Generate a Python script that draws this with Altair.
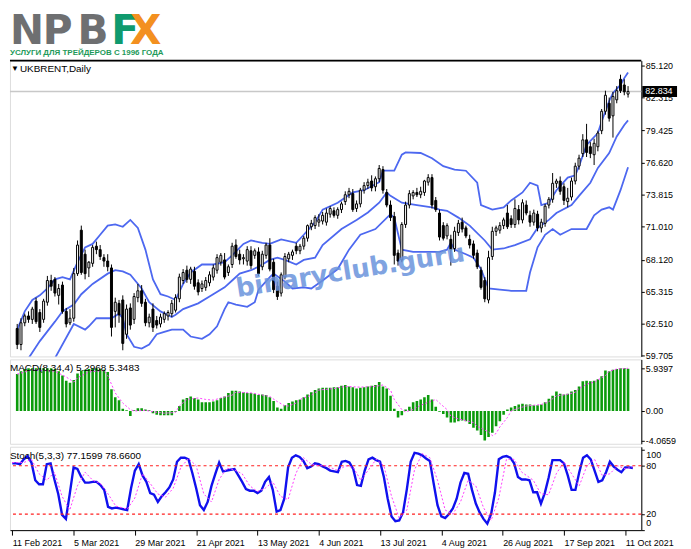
import altair as alt
import pandas as pd

# ---------------- data ----------------
opens = [62.1,60.7,62.6,63.2,62.9,64.5,63.5,62.9,64.4,66.3,
66.4,65.0,65.9,63.6,62.6,63.0,66.9,70.7,68.6,67.4,
67.8,69.3,69.0,68.3,68.0,67.4,63.6,64.3,64.6,61.6,
63.9,62.9,64.8,65.4,64.4,62.6,63.8,62.8,62.5,62.9,
63.2,63.4,63.7,64.7,66.3,67.2,66.4,67.1,66.1,65.6,
65.7,66.1,66.6,67.2,67.9,68.1,67.0,67.7,69.4,68.6,
68.2,68.0,68.9,68.5,68.8,67.5,68.5,69.4,67.9,65.8,
65.2,66.6,68.2,68.5,69.3,68.9,69.3,70.0,71.0,71.1,
71.4,71.5,71.4,72.1,72.4,72.0,72.5,73.2,73.8,73.9,
72.6,73.0,74.2,74.6,75.0,74.5,75.2,76.0,74.0,72.9,
71.9,68.7,68.1,71.2,72.9,73.7,74.0,73.8,74.0,74.9,
75.3,73.3,72.2,71.1,70.2,69.9,69.1,70.5,71.4,70.9,
69.9,69.5,68.7,67.2,66.3,64.6,68.4,70.6,70.7,71.1,
72.2,71.7,71.2,72.5,71.6,72.9,72.0,71.4,72.1,70.9,
71.3,72.9,73.4,74.8,75.0,74.5,73.2,73.6,75.0,76.3,
77.4,78.6,78.0,77.3,78.0,79.4,81.1,81.8,80.7,82.1,
83.9,83.4,82.6]
highs = [62.5,63.0,63.4,63.6,64.0,64.8,63.8,64.7,66.7,66.8,
66.6,66.0,66.2,63.9,63.8,67.4,69.8,71.1,69.0,68.0,
69.4,69.7,69.4,68.6,68.6,67.7,64.8,64.6,65.0,64.2,
64.3,65.2,66.0,65.9,64.7,63.4,64.3,63.2,63.4,63.6,
63.7,64.6,65.1,66.9,67.3,67.6,67.5,67.5,66.4,66.3,
66.6,67.1,67.7,68.6,68.7,68.7,67.7,69.6,69.9,69.0,
68.6,69.3,69.3,69.1,69.2,68.9,69.6,70.0,68.2,66.2,
67.0,68.7,68.8,69.0,69.6,69.5,70.2,71.2,71.6,72.0,
72.1,72.3,72.6,72.8,72.7,72.7,73.2,74.1,74.4,74.3,
73.3,74.4,74.9,75.2,75.5,75.4,76.4,76.3,74.3,73.3,
72.3,69.0,71.4,73.2,74.2,74.2,74.4,74.5,75.1,75.6,
75.6,73.6,72.5,71.4,71.3,70.3,71.0,71.6,71.8,71.1,
70.3,69.8,69.0,67.5,66.6,68.9,71.0,71.1,71.4,71.8,
72.9,72.0,73.4,72.9,73.4,73.3,72.4,72.5,72.4,71.7,
73.0,73.6,75.7,75.2,75.4,74.8,74.4,75.3,76.6,77.3,
79.1,80.0,78.4,78.7,79.4,81.3,82.9,82.3,82.8,83.3,
84.3,83.9,83.3]
lows = [60.3,60.2,62.3,62.6,62.5,62.5,61.8,62.6,64.1,65.4,
64.9,64.2,63.4,62.2,62.4,62.7,66.7,66.8,66.4,66.6,
67.5,68.6,68.1,67.5,67.1,61.4,62.2,62.6,60.2,61.2,
62.0,62.5,64.4,64.0,62.3,62.2,61.8,62.1,62.2,62.6,
62.8,63.1,63.5,64.4,66.0,66.1,66.0,65.5,65.0,65.3,
65.4,65.8,66.3,66.9,67.6,66.4,66.7,67.4,68.2,67.7,
67.7,67.6,67.3,68.2,66.7,67.2,68.2,67.1,65.2,64.6,
64.9,66.4,67.9,68.1,68.6,68.6,69.0,69.7,70.7,70.8,
71.0,71.2,71.1,71.8,71.8,71.7,72.2,72.9,73.5,72.3,
72.3,72.7,73.9,74.3,74.1,74.1,74.9,73.9,72.7,71.5,
67.7,67.6,67.9,70.9,72.6,73.4,73.6,73.5,73.7,74.6,
72.6,72.3,69.8,69.8,69.9,67.6,68.8,70.2,70.5,70.0,
69.1,68.2,67.3,65.5,64.4,64.3,68.1,70.2,70.4,70.8,
70.8,70.9,70.9,71.2,71.3,72.0,71.0,71.1,70.6,70.5,
71.0,72.6,73.1,74.4,73.8,72.9,72.7,73.3,74.7,76.0,
77.1,77.1,77.0,76.4,77.6,79.1,80.8,80.2,78.8,81.8,
82.7,82.5,82.3]
closes = [60.7,62.6,63.2,62.9,63.8,62.7,62.2,64.5,66.3,65.8,
65.2,65.6,63.6,62.5,63.0,66.9,69.4,67.0,66.9,67.9,
69.2,69.0,68.4,68.0,67.5,62.2,64.4,63.3,60.8,63.8,
62.4,64.9,65.4,64.3,62.6,63.1,62.2,62.4,63.1,63.4,
63.5,64.3,64.8,66.6,67.0,66.4,67.3,65.8,65.3,66.0,
66.3,66.8,67.4,68.3,68.5,66.6,67.5,69.3,68.4,68.1,
68.3,69.0,67.6,68.9,66.9,68.6,69.4,67.3,65.5,64.9,
66.8,68.4,68.6,68.8,68.9,69.3,70.0,71.1,71.3,71.8,
71.6,72.0,72.2,72.6,72.0,72.5,73.0,73.8,74.1,72.5,
73.0,74.2,74.6,74.9,74.4,75.2,76.1,74.2,72.9,71.8,
68.5,68.0,71.2,72.9,73.9,74.0,73.8,74.1,75.0,75.3,
72.9,72.5,70.1,70.0,71.1,69.0,70.6,71.3,70.8,70.2,
69.4,68.5,67.5,65.7,64.7,68.3,70.6,70.9,71.1,71.6,
71.0,71.2,72.6,71.6,73.1,72.2,71.4,72.2,70.9,71.4,
72.8,73.4,74.8,75.0,74.1,73.3,73.5,75.0,76.3,77.0,
78.6,77.5,77.4,78.3,79.2,81.1,82.5,80.5,82.4,82.9,
82.9,82.8,82.834]

# Bollinger bands (read at selected bars)
bb_up_idx = [0,2,4,6,8,10,12,14,16,18,20,22,24,26,28,30,32,34,36,38,40,42,44,46,49,52,55,57,60,62,65,67,70,74,76,79,81,85,89,92,96,97,100,102,103,107,110,113,116,119,122,123,126,129,131,134,136,138,139,141,143,146,148,149,151,154,155,157,158,160,161,162]
bb_up = [62.0,63.6,64.6,65.0,65.6,66.4,66.6,66.4,67.9,69.2,69.5,70.3,71.1,71.2,71.0,71.6,70.9,69.0,66.4,65.1,64.9,64.6,66.0,67.0,67.7,67.7,67.9,68.5,69.5,69.8,69.6,69.5,69.9,69.6,70.3,71.4,72.5,73.1,74.0,74.2,74.9,75.9,75.9,77.3,77.5,77.45,77.0,76.3,76.0,75.9,74.85,72.9,72.5,72.7,73.3,74.0,74.85,74.6,72.9,73.1,74.2,75.3,75.5,76.3,78.15,79.2,80.2,82.0,82.7,83.4,84.0,84.5]
bb_mid_idx = [2,3,6,10,12,15,17,20,24,26,28,30,33,35,38,41,42,44,48,51,55,57,59,62,64,67,69,71,74,76,79,81,86,90,93,96,98,99,102,106,110,112,114,117,120,124,126,129,132,136,138,141,143,147,149,152,154,157,159,161,162]
bb_mid = [59.0,59.5,61.0,62.7,63.6,64.2,65.1,66.0,66.9,67.2,67.1,66.8,65.6,64.4,63.6,63.1,63.3,63.8,64.3,64.9,65.7,66.3,66.9,67.2,67.5,68.1,68.3,68.1,67.7,68.1,68.3,69.4,70.8,71.6,72.25,73.1,74.0,73.7,73.1,72.9,72.7,72.5,72.4,71.8,71.1,69.8,69.0,69.1,69.4,69.9,70.9,71.6,72.2,72.9,73.7,74.85,76.15,77.45,78.9,79.9,80.3]
bb_low_idx = [9,10,15,18,19,21,25,27,28,29,31,33,35,37,39,41,44,46,49,51,53,55,56,58,61,63,64,67,68,71,73,76,78,81,85,88,91,95,99,100,102,105,110,112,114,115,116,119,121,123,125,128,131,135,136,138,140,142,144,147,151,153,155,157,158,160,162]
bb_low = [59.0,59.5,62.5,62.0,62.3,63.0,63.0,63.4,63.0,61.6,60.5,60.35,60.7,61.6,61.8,62.0,62.0,61.4,61.2,61.6,62.3,63.8,64.4,64.2,64.0,64.4,65.5,66.6,66.9,66.2,65.6,65.7,65.6,66.3,67.3,69.0,70.3,70.8,72.1,71.8,69.0,68.8,68.8,68.8,69.0,69.6,69.0,68.6,68.3,67.3,65.6,65.5,65.4,65.4,67.0,69.2,70.3,70.8,70.3,70.8,70.8,72.0,72.5,72.7,72.5,74.2,76.2]

# MACD(8,34,4)
macd_hist = [5.1,5.5,5.8,5.9,5.9,5.9,5.94,5.9,5.9,5.9,
5.8,5.5,4.9,4.2,3.9,4.3,5.2,5.6,5.7,5.8,
5.9,5.9,5.8,5.7,5.4,3.0,1.9,1.5,0.3,0.1,
-0.7,0.1,0.4,0.4,0.2,0.1,-0.3,-0.5,-0.6,-0.6,
-0.6,-0.6,-0.1,0.7,1.6,1.8,2.0,1.8,1.6,1.2,
1.2,1.2,1.3,1.5,1.8,2.0,2.5,2.8,2.8,2.7,
2.6,2.5,2.5,2.4,2.2,2.3,2.2,1.9,1.4,0.5,
0.3,0.8,1.1,1.3,1.5,1.6,1.9,2.3,2.6,2.9,
3.1,3.2,3.2,3.2,3.3,3.3,3.5,3.6,3.4,3.3,
3.1,3.2,3.3,3.4,3.5,3.6,4.0,3.4,3.1,2.1,
0.3,-0.9,-0.6,0.2,0.6,1.2,1.4,1.6,1.9,2.2,
1.6,0.6,-0.1,-0.4,-0.9,-1.6,-1.6,-1.4,-1.3,-1.4,
-1.8,-2.3,-2.7,-3.3,-4.07,-3.6,-3.0,-2.1,-1.4,-0.5,
0.2,0.5,0.7,0.9,1.0,0.9,0.9,0.8,0.8,0.9,
1.2,1.7,2.1,2.7,2.4,2.3,2.4,2.7,2.9,3.4,
4.1,4.2,4.1,4.2,4.4,4.8,5.6,5.5,5.7,5.8,
5.9,5.94,5.85]
macd_sig_idx = [0,4,10,13,15,16,19,23,24,26,28,30,31,34,36,39,42,43,45,48,50,52,54,57,58,62,65,67,69,71,72,74,75,78,80,84,87,91,95,97,99,100,102,103,105,107,109,111,112,114,115,117,119,121,122,125,126,127,128,130,131,133,135,137,139,141,143,146,148,149,151,153,154,156,157,159,162]
macd_sig = [5.1,5.7,5.5,4.7,4.0,4.6,5.4,5.6,4.9,2.5,1.1,0.2,0.0,0.1,-0.1,-0.3,-0.2,0.7,1.6,1.8,1.6,1.5,1.8,2.2,2.6,2.5,2.2,2.0,1.3,0.7,0.7,1.1,1.6,2.2,2.9,3.1,3.4,3.3,3.4,3.6,2.9,1.6,0.2,-0.1,0.2,0.8,1.2,1.6,1.1,0.2,-0.7,-1.1,-1.3,-1.6,-2.1,-2.9,-3.4,-3.1,-2.2,-0.9,0.0,0.4,0.7,0.8,0.9,1.3,2.1,2.3,2.6,3.1,3.7,4.0,4.3,4.9,5.5,5.8,5.9]
macd_scale_labels = [5.9397, 0.0, -4.0659]

# Stochastic(5,3,3)
stoch_main = [83,83,82,88,92,84,62,57,57,82,
83,63,45,19,14,45,78,76,66,59,
59,60,60,56,50,29,27,28,27,26,
25,52,74,82,68,60,46,44,35,42,
47,53,63,85,90,90,88,71,52,31,
25,35,55,70,84,73,74,75,76,68,
60,51,49,49,46,49,60,66,50,23,
25,39,78,90,93,91,86,77,79,83,
82,79,77,74,73,72,85,86,84,76,
56,55,74,88,90,87,85,66,39,17,
11,12,22,51,85,96,95,93,89,86,
58,31,17,15,20,27,39,59,71,70,
50,33,22,14,8,20,47,88,91,92,
90,83,66,63,63,62,47,47,33,46,
65,87,87,87,83,68,50,50,72,90,
93,88,74,60,62,72,85,79,75,72,
78,78,77.16]
stoch_sig_idx = [0,3,5,7,9,11,13,15,17,19,21,23,25,27,30,32,34,36,38,40,42,44,46,48,50,52,54,56,58,60,62,64,66,68,70,72,74,76,78,80,82,85,87,89,91,93,95,97,99,101,103,105,107,109,111,113,115,117,119,121,123,125,127,129,131,133,136,138,140,142,144,146,148,150,152,154,156,158,160,162]
stoch_sig = [84,84,88,70,62,72,42,25,55,72,62,58,45,30,26,40,70,58,45,41,52,78,89,80,45,35,63,77,75,70,55,48,52,60,42,38,70,90,82,80,80,74,80,78,62,75,88,80,42,15,25,75,95,90,62,25,20,35,62,55,28,12,40,88,88,72,62,45,44,70,85,70,55,80,88,68,70,80,76,78.66]
stoch_levels = [80, 20]
stoch_edge_top = [100]
stoch_edge_bottom = [0]

# scale labels
price_ticks = [85.12, 82.315, 79.425, 76.62, 73.815, 71.01, 68.12, 65.315, 62.51, 59.705]
last_price = [82.834]
date_idx = [0, 16, 32, 48, 64, 80, 96, 112, 128, 144, 160]
date_labels = ["11 Feb 2021", "5 Mar 2021", "29 Mar 2021", "21 Apr 2021", "13 May 2021",
               "4 Jun 2021", "13 Jul 2021", "4 Aug 2021", "26 Aug 2021", "17 Sep 2021", "11 Oct 2021"]
symbol_title = ["UKBRENT,Daily"]
macd_title = ["MACD(8,34,4) 5.2968 5.3483"]
stoch_title = ["Stoch(5,3,3) 77.1599 78.6600"]
watermark = ["binaryclub.guru"]
logo_letters = ["N", "P", "B", "F", "X"]
logo_sub = ["УСЛУГИ ДЛЯ ТРЕЙДЕРОВ С 1996 ГОДА"]

# ---------------- styling ----------------
W = 636
FONT = "Liberation Sans"
FS = 9
BAND = "#4d68f0"
GREEN = "#0b9b0b"
MAGENTA = "#ff3cff"

xscale = alt.Scale(domain=[-0.6, 164.2], nice=False, zero=False)
pscale = alt.Scale(domain=[59.66, 85.53], nice=False, zero=False)
mscale = alt.Scale(domain=[-4.527, 7.133], nice=False, zero=False)
sscale = alt.Scale(domain=[0, 103.6], nice=False, zero=False)
X = alt.X("i:Q", scale=xscale, axis=None)

n = len(closes)
cdf = pd.DataFrame({"i": list(range(n)), "open": opens, "high": highs, "low": lows, "close": closes})
cdf["dir"] = ["up" if c >= o else "down" for o, c in zip(opens, closes)]

price_axis = alt.Axis(orient="right", values=price_ticks, format=".3f", title=None, grid=False,
                      labelFont=FONT, labelFontSize=FS, labelColor="black", tickSize=3,
                      tickColor="black", domainColor="black", labelPadding=1,
                      labelFlush=False, labelOverlap=False)

def PY(field):
    return alt.Y(field, scale=pscale, axis=price_axis)

wicks = alt.Chart(cdf).mark_rule(color="black", strokeWidth=1, clip=True).encode(
    x=X, y=PY("low:Q"), y2="high:Q")
bodies = alt.Chart(cdf).mark_bar(width=2, stroke="black", strokeWidth=1, clip=True).encode(
    x=X, y=PY("open:Q"), y2="close:Q",
    fill=alt.Fill("dir:N", scale=alt.Scale(domain=["up", "down"], range=["white", "black"]), legend=None))

def band(idx, vals):
    return alt.Chart(pd.DataFrame({"i": idx, "v": vals})).mark_line(
        color=BAND, strokeWidth=1.8, clip=True).encode(x=X, y=PY("v:Q"))

lp = pd.DataFrame({"p": last_price})
price_line = alt.Chart(lp).mark_rule(color="#c8c8c8", strokeWidth=1.5).encode(y=PY("p:Q"))
price_box = alt.Chart(lp).mark_rule(color="black", strokeWidth=11).encode(
    x=alt.value(W + 1), x2=alt.value(W + 36), y=PY("p:Q"))
price_txt = alt.Chart(lp).mark_text(align="left", baseline="middle", color="white", font=FONT,
                                    fontSize=FS).encode(
    x=alt.value(W + 4), y=PY("p:Q"), text=alt.Text("p:Q", format=".3f"))

title_tri = alt.Chart(pd.DataFrame({"t": ["▼"]})).mark_text(
    align="left", baseline="middle", fontSize=8, color="black").encode(
    x=alt.value(1), y=alt.value(8), text="t:N")
title_txt = alt.Chart(pd.DataFrame({"t": symbol_title})).mark_text(
    align="left", baseline="middle", font=FONT, fontSize=10, color="black").encode(
    x=alt.value(10), y=alt.value(8), text="t:N")
wm = alt.Chart(pd.DataFrame({"t": watermark})).mark_text(
    align="center", baseline="middle", font="DejaVu Sans", fontWeight="bold", fontSize=26,
    color="#6a93dc", opacity=0.85, angle=351).encode(
    x=alt.value(343), y=alt.value(212), text="t:N")
top_border = alt.Chart(lp).mark_rule(color="black", strokeWidth=2).encode(
    x=alt.value(0), x2=alt.value(W), y=alt.value(0))

main = alt.layer(
    price_line, band(bb_up_idx, bb_up), band(bb_mid_idx, bb_mid), band(bb_low_idx, bb_low),
    wicks, bodies, wm, title_tri, title_txt, top_border, price_box, price_txt
).properties(width=W, height=298)

# ---------------- MACD ----------------
mdf = pd.DataFrame({"i": list(range(n)), "h": macd_hist})
macd_axis = alt.Axis(orient="right", values=macd_scale_labels, title=None, grid=False,
                     labelExpr="datum.value == 0 ? '0.00' : (datum.value > 0 ? '5.9397' : '-4.0659')",
                     labelFont=FONT, labelFontSize=FS, labelColor="black", tickSize=3,
                     tickColor="black", domainColor="black", labelPadding=1,
                     labelFlush=False, labelOverlap=False)
hist = alt.Chart(mdf).mark_bar(width=2.6, color=GREEN, clip=True).encode(
    x=X, y=alt.Y("h:Q", scale=mscale, axis=macd_axis, stack=None))
msig = alt.Chart(pd.DataFrame({"i": macd_sig_idx, "v": macd_sig})).mark_line(
    color=MAGENTA, strokeWidth=1, strokeDash=[2, 2], clip=True).encode(
    x=X, y=alt.Y("v:Q", scale=mscale, axis=macd_axis))
mtitle = alt.Chart(pd.DataFrame({"t": macd_title})).mark_text(
    align="left", baseline="middle", font=FONT, fontSize=10, color="black").encode(
    x=alt.value(0), y=alt.value(9), text="t:N")
macd = alt.layer(hist, msig, mtitle).properties(width=W, height=85)

# ---------------- Stochastic ----------------
sdf = pd.DataFrame({"i": list(range(n)), "v": stoch_main})
lab_expr = ""
for v, s in zip(date_idx, date_labels):
    lab_expr += "datum.value == %d ? '%s' : " % (v, s)
lab_expr += "''"
x_axis = alt.Axis(orient="bottom", values=date_idx, title=None, grid=False,
                  labelExpr=lab_expr,
                  labelFont=FONT, labelFontSize=FS, labelColor="black", labelAlign="left",
                  labelPadding=3, tickSize=5, tickColor="black", domainColor="black",
                  labelFlush=False, labelOverlap=False)
SX = alt.X("i:Q", scale=xscale, axis=x_axis)
stoch_axis = alt.Axis(orient="right", values=[0, 20, 80, 100], labels=False, title=None, grid=False,
                      tickSize=3, tickColor="black", domainColor="black")

def SY(field):
    return alt.Y(field, scale=sscale, axis=stoch_axis)

lv = pd.DataFrame({"v": stoch_levels})
levels = alt.Chart(lv).mark_rule(color="#ff2020", strokeWidth=1.2, strokeDash=[3, 3]).encode(y=SY("v:Q"))
lvl_txt = alt.Chart(lv).mark_text(align="left", baseline="middle", font=FONT, fontSize=FS,
                                  color="black").encode(
    x=alt.value(W + 5), y=SY("v:Q"), text="v:Q")
top_txt = alt.Chart(pd.DataFrame({"v": stoch_edge_top})).mark_text(
    align="left", baseline="top", font=FONT, fontSize=FS, color="black", dy=1).encode(
    x=alt.value(W + 5), y=SY("v:Q"), text="v:Q")
bot_txt = alt.Chart(pd.DataFrame({"v": stoch_edge_bottom})).mark_text(
    align="left", baseline="bottom", font=FONT, fontSize=FS, color="black", dy=-2).encode(
    x=alt.value(W + 5), y=SY("v:Q"), text="v:Q")
smain = alt.Chart(sdf).mark_line(color="#1010ee", strokeWidth=2.4, clip=True).encode(
    x=SX, y=SY("v:Q"))
ssig = alt.Chart(pd.DataFrame({"i": stoch_sig_idx, "v": stoch_sig})).mark_line(
    color=MAGENTA, strokeWidth=1, strokeDash=[2, 2], clip=True).encode(x=SX, y=SY("v:Q"))
stitle = alt.Chart(pd.DataFrame({"t": stoch_title})).mark_text(
    align="left", baseline="middle", font=FONT, fontSize=10, color="black").encode(
    x=alt.value(0), y=alt.value(9), text="t:N")
stoch = alt.layer(smain, levels, ssig, stitle, lvl_txt, top_txt, bot_txt).properties(width=W, height=84)

# ---------------- logo ----------------
logo_pos = [0, 33, 68, 102, 121]
logo_col = ["#6e6f71", "#6e6f71", "#6e6f71", "#0f9a6e", "#f39020"]
logo_layers = []
for ch, xp, col in zip(logo_letters, logo_pos, logo_col):
    logo_layers.append(alt.Chart(pd.DataFrame({"t": [ch]})).mark_text(
        align="left", baseline="top", font="DejaVu Sans", fontWeight="bold", fontSize=41,
        color=col).encode(x=alt.value(xp), y=alt.value(0), text="t:N"))
logo_layers.append(alt.Chart(pd.DataFrame({"t": logo_sub})).mark_text(
    align="left", baseline="alphabetic", font="Liberation Sans",
    fontWeight="bold", fontSize=8, color="#1e9a5a").encode(
    x=alt.value(0), y=alt.value(43), text="t:N"))
logo = alt.layer(*logo_layers).properties(width=W, height=46,
                                          view=alt.ViewBackground(stroke="transparent"))

chart = alt.vconcat(logo, main, macd, stoch, spacing=3, bounds="flush", padding=0).configure_view(
    stroke="black", strokeWidth=1).configure(background="white")

chart.save("out.html", embed_options={"renderer": "svg", "actions": False})
